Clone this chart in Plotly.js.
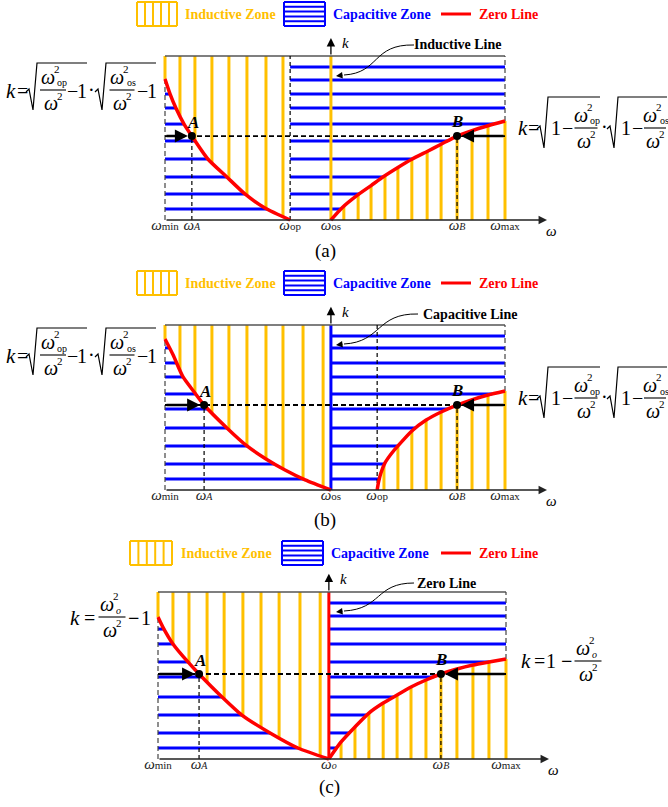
<!DOCTYPE html>
<html>
<head>
<meta charset="utf-8">
<script src="https://cdn.plot.ly/plotly-3.0.1.min.js"></script>
<style>
  html, body { margin: 0; padding: 0; background: #ffffff; }
  #chart { width: 668px; height: 807px; }
</style>
</head>
<body>
<div id="chart"></div>
<script>
// ---------------- panel (a): two resonant frequencies, ωop < ωos ----------------
const a_tickText = ['ωmin', 'ωA', 'ωop', 'ωos', 'ωB', 'ωmax'];
const a_tickVals = [0.5, 0.579, 0.868, 0.988, 1.359, 1.5];
const a_leftW  = [0.5, 0.515, 0.532, 0.556, 0.579, 0.626, 0.682, 0.735, 0.794, 0.868];
const a_leftK  = [0.860, 0.768, 0.683, 0.585, 0.512, 0.372, 0.262, 0.159, 0.073, 0];
const a_rightW = [0.988, 1.021, 1.065, 1.106, 1.141, 1.185, 1.226, 1.271, 1.312, 1.359, 1.403, 1.450, 1.500];
const a_rightK = [0, 0.075, 0.150, 0.210, 0.262, 0.320, 0.370, 0.418, 0.462, 0.512, 0.545, 0.575, 0.604];
const a_pointW = [0.579, 1.359];
const a_pointK = [0.512, 0.512];
const a_hatchK = [0.933, 0.854, 0.768, 0.683, 0.585, 0.482, 0.372, 0.262, 0.159, 0.067];
const a_hatchLeftW  = [0.5, 0.544, 0.588, 0.638, 0.688, 0.741, 0.797, 0.847];
const a_hatchRightW = [1.026, 1.068, 1.106, 1.147, 1.185, 1.226, 1.271, 1.312, 1.359, 1.403, 1.450, 1.500];

// ---------------- panel (b): ωos < ωop ----------------
const b_tickText = ['ωmin', 'ωA', 'ωos', 'ωop', 'ωB', 'ωmax'];
const b_tickVals = [0.5, 0.615, 0.988, 1.124, 1.359, 1.5];
const b_leftW  = [0.5, 0.524, 0.553, 0.588, 0.615, 0.682, 0.741, 0.797, 0.853, 0.912, 0.988];
const b_leftK  = [0.915, 0.818, 0.685, 0.588, 0.515, 0.376, 0.267, 0.188, 0.121, 0.061, 0];
const b_rightW = [1.124, 1.128, 1.135, 1.147, 1.165, 1.185, 1.226, 1.268, 1.312, 1.359, 1.400, 1.450, 1.500];
const b_rightK = [0, 0.048, 0.103, 0.164, 0.218, 0.267, 0.358, 0.424, 0.473, 0.515, 0.545, 0.576, 0.600];
const b_pointW = [0.615, 1.359];
const b_pointK = [0.515, 0.515];
const b_hatchK = [0.933, 0.861, 0.770, 0.685, 0.582, 0.491, 0.376, 0.267, 0.158, 0.067];
const b_hatchLeftW  = [0.5, 0.544, 0.588, 0.638, 0.688, 0.741, 0.797, 0.847, 0.906, 0.965];
const b_hatchRightW = [1.144, 1.185, 1.226, 1.268, 1.312, 1.359, 1.403, 1.450, 1.500];

// ---------------- panel (c): single resonant frequency ωo ----------------
const c_tickText = ['ωmin', 'ωA', 'ωo', 'ωB', 'ωmax'];
const c_tickVals = [0.5, 0.618, 0.991, 1.313, 1.5];
const c_leftW  = [0.5, 0.514, 0.543, 0.586, 0.618, 0.684, 0.741, 0.822, 0.902, 0.991];
const c_leftK  = [0.850, 0.790, 0.689, 0.581, 0.509, 0.371, 0.263, 0.156, 0.066, 0];
const c_rightW = [0.991, 1.026, 1.066, 1.106, 1.147, 1.187, 1.227, 1.270, 1.313, 1.359, 1.405, 1.451, 1.500];
const c_rightK = [0, 0.102, 0.192, 0.275, 0.335, 0.383, 0.431, 0.473, 0.509, 0.539, 0.563, 0.581, 0.599];
const c_pointW = [0.618, 1.313];
const c_pointK = [0.509, 0.509];
const c_hatchK = [0.934, 0.856, 0.778, 0.689, 0.581, 0.491, 0.371, 0.263, 0.156, 0.066];
const c_hatchLeftW  = [0.5, 0.543, 0.589, 0.641, 0.690, 0.744, 0.796, 0.848, 0.908, 0.966];
const c_hatchRightW = [1.026, 1.066, 1.106, 1.147, 1.187, 1.227, 1.270, 1.313, 1.359, 1.405, 1.451, 1.500];

// ---------------- styling ----------------
const SERIF = 'Liberation Serif, Times New Roman, serif';
const ORANGE = '#FFC000', BLUE = '#0000FF', RED = '#FF0000';
const W = 668, H = 807;
const X = p => p / W;
const Y = p => 1 - p / H;

const traces = [], shapes = [], annotations = [];
const layout = {
  width: W, height: H,
  margin: { l: 0, r: 0, t: 0, b: 0 },
  paper_bgcolor: '#ffffff', plot_bgcolor: 'rgba(0,0,0,0)',
  font: { family: SERIF },
  showlegend: false, shapes, annotations
};

// ---------- helpers ----------
function interpK(ws, ks, w) {
  for (let i = 0; i < ws.length - 1; i++) {
    if ((w - ws[i]) * (w - ws[i + 1]) <= 0) {
      const t = ws[i + 1] === ws[i] ? 0 : (w - ws[i]) / (ws[i + 1] - ws[i]);
      return ks[i] + t * (ks[i + 1] - ks[i]);
    }
  }
  return null;
}
function interpW(ws, ks, k) {
  for (let i = 0; i < ks.length - 1; i++) {
    if ((k - ks[i]) * (k - ks[i + 1]) <= 0) {
      const t = ks[i + 1] === ks[i] ? 0 : (k - ks[i]) / (ks[i + 1] - ks[i]);
      return ws[i] + t * (ws[i + 1] - ws[i]);
    }
  }
  return null;
}
function segTrace(segs, xa, ya, line) {
  const x = [], y = [];
  segs.forEach(([w0, k0, w1, k1]) => { x.push(w0, w1, null); y.push(k0, k1, null); });
  traces.push({ type: 'scatter', mode: 'lines', x, y, xaxis: xa, yaxis: ya, line, hoverinfo: 'skip' });
}
function fmtTick(t) {
  const sub = t.slice(1);
  const it = sub.length === 1;
  return '<i>ω</i><span style="font-size:' + (it ? 10 : 11) + 'px">' + (it ? '<i>' + sub + '</i>' : sub) + '</span>';
}
// text placed in page pixels
function T(x, y, text, size, color, extra) {
  annotations.push(Object.assign({
    xref: 'paper', yref: 'paper', x: X(x), y: Y(y), text, showarrow: false,
    xanchor: 'center', yanchor: 'middle',
    font: { family: SERIF, size, color: color || '#000000' }
  }, extra || {}));
}
function L(x0, y0, x1, y1, color, width) {
  shapes.push({ type: 'line', xref: 'paper', yref: 'paper', x0: X(x0), y0: Y(y0), x1: X(x1), y1: Y(y1),
    line: { color, width } });
}
function pathPx(cmds, color, width) {
  const d = cmds.map(c => {
    const pts = [];
    for (let i = 1; i < c.length; i += 2) pts.push(X(c[i]).toFixed(5) + ',' + Y(c[i + 1]).toFixed(5));
    return c[0] + ' ' + pts.join(' ');
  }).join(' ');
  shapes.push({ type: 'path', xref: 'paper', yref: 'paper', path: d, line: { color, width } });
}
// radical sign
function rad(x0, yMid, yBot, yTop, xEnd) {
  pathPx([['M', x0, yMid + 1], ['L', x0 + 3, yMid - 2], ['L', x0 + 7, yBot], ['L', x0 + 11, yTop], ['L', xEnd, yTop]], '#000', 1.2);
}
// ω²_sub / ω² fraction centred at xc with its bar at yBar
function frac(xc, yBar, half, sub) {
  T(xc - 5, yBar - 13, '<i>ω</i>', 20);
  T(xc + 4, yBar - 21, '2', 11);
  const it = sub.length === 1;
  T(xc + 3 + 3 * sub.length, yBar - 7, it ? '<i>' + sub + '</i>' : sub, 10);
  L(xc - half, yBar, xc + half, yBar, '#000', 1.1);
  T(xc - 2, yBar + 13, '<i>ω</i>', 20);
  T(xc + 7, yBar + 6, '2', 11);
}
function legendRow(yc, ox0, ox1, bx0, bx1, tI, tC, tZ) {
  const y0 = yc - 12, y1 = yc + 12;
  for (let i = 0; i <= 5; i++) { const x = ox0 + (ox1 - ox0) * i / 5; L(x, y0, x, y1, ORANGE, 2); }
  L(ox0, y0, ox1, y0, ORANGE, 2); L(ox0, y1, ox1, y1, ORANGE, 2);
  for (let i = 0; i <= 5; i++) { const y = y0 + (y1 - y0) * i / 5; L(bx0, y, bx1, y, BLUE, 2); }
  L(bx0, y0, bx0, y1, BLUE, 2); L(bx1, y0, bx1, y1, BLUE, 2);
  L(441, yc, 471, yc, RED, 3);
  T(tI, yc, '<b>Inductive Zone</b>', 14, ORANGE);
  T(tC, yc, '<b>Capacitive Zone</b>', 14, BLUE);
  T(tZ, yc, '<b>Zero Line</b>', 14, RED);
}
function callout(text, tx, ty, cmds, tipX, tipY) {
  T(tx, ty, '<b>' + text + '</b>', 14);
  pathPx(cmds, '#000', 1);
  annotations.push({ xref: 'paper', yref: 'paper', x: X(tipX), y: Y(tipY), ax: 8, ay: -1, text: '',
    showarrow: true, arrowhead: 2, arrowwidth: 1, arrowsize: 1.3, arrowcolor: '#000' });
}

// ---------- one ω–k panel ----------
function buildPanel(n, d, g) {
  const xa = n === 1 ? 'x' : 'x' + n, ya = n === 1 ? 'y' : 'y' + n;
  const s = 1 / (g.pxR - g.pxL), h = 1 / (g.pyK0 - g.pyK1);
  const DL = 120, DR = 590, topPx = g.pyK1 - 32, botPx = g.pyK0 + 8;
  layout[n === 1 ? 'xaxis' : 'xaxis' + n] = {
    domain: [X(DL), X(DR)], range: [0.5 + (DL - g.pxL) * s, 0.5 + (DR - g.pxL) * s],
    anchor: 'free', position: Y(g.pyK0),
    showline: false, showgrid: false, zeroline: false, ticks: '',
    tickvals: d.tickVals, ticktext: d.tickText.map(fmtTick), ticklabelstandoff: -6,
    tickfont: { family: SERIF, size: 15, color: '#222' }, fixedrange: true
  };
  layout[n === 1 ? 'yaxis' : 'yaxis' + n] = {
    domain: [Y(botPx), Y(topPx)], range: [-(botPx - g.pyK0) * h, 1 + (g.pyK1 - topPx) * h],
    anchor: xa, visible: false, fixedrange: true
  };

  const wMin = d.tickVals[0], wMax = d.tickVals[d.tickVals.length - 1];
  const wSplit = d.leftW[d.leftW.length - 1];
  const kL0 = d.leftK[0], kRend = d.rightK[d.rightK.length - 1];
  const kA = d.pointK[0];

  // inductive hatching: above the left curve, below the right curve
  const oseg = [];
  d.hatchLeftW.forEach(w => oseg.push([w, interpK(d.leftW, d.leftK, w), w, 1]));
  d.hatchRightW.forEach(w => { const k = interpK(d.rightW, d.rightK, w); if (k !== null) oseg.push([w, 0, w, k]); });
  segTrace(oseg, xa, ya, { color: ORANGE, width: 3 });

  // capacitive hatching: below the left curve, above the right curve
  const bseg = [];
  d.hatchK.forEach(k => {
    if (k < kL0) bseg.push([wMin, k, interpW(d.leftW, d.leftK, k), k]);
    const we = k < kRend ? interpW(d.rightW, d.rightK, k) : wMax;
    bseg.push([wSplit, k, we, k]);
  });
  segTrace(bseg, xa, ya, { color: BLUE, width: 3 });

  // boundary line at the split frequency
  segTrace([[d.lineW, 0, d.lineW, 1]], xa, ya, { color: d.lineColor, width: 3 });

  // frame
  segTrace([[wMin, 1, wMax, 1]], xa, ya, { color: '#555', width: 1.5 });
  segTrace([[wMin, 0, wMin, kL0], [wMax, kRend, wMax, 1]], xa, ya, { color: '#444', width: 1.2, dash: '5px,3px' });

  // guide lines
  const vd = d.dashedW.map(w => [w, 0, w, 1]);
  d.pointW.forEach((w, i) => vd.push([w, 0, w, d.pointK[i]]));
  segTrace(vd, xa, ya, { color: '#000', width: 1.2, dash: '4px,3px' });
  segTrace([[wMin, kA, wMax, kA]], xa, ya, { color: '#000', width: 1.8, dash: '5px,3px' });

  // zero-reactance curves
  [[d.leftW, d.leftK], [d.rightW, d.rightK]].forEach(([xw, yk]) => traces.push({
    type: 'scatter', mode: 'lines', x: xw, y: yk, xaxis: xa, yaxis: ya, hoverinfo: 'skip',
    line: { color: RED, width: 3.5, shape: 'spline', smoothing: 0.6 }
  }));

  // operating points A and B
  traces.push({ type: 'scatter', mode: 'markers', x: d.pointW, y: d.pointK, xaxis: xa, yaxis: ya,
    hoverinfo: 'skip', marker: { color: '#000', size: 8 } });

  const wEnd = 0.5 + (g.axisEndPx - g.pxL) * s;
  const kTip = 1.11;
  const arr = (x, y, ax, ay, width, size, standoff, color) => annotations.push({
    xref: xa, yref: ya, axref: xa, ayref: ya, x, y, ax, ay, text: '', showarrow: true,
    arrowhead: 2, arrowwidth: width, arrowsize: size, standoff, arrowcolor: color
  });
  arr(wEnd, 0, wMin, 0, 1.3, 1.3, 0, '#222');                  // ω axis
  arr(d.lineW, kTip, d.lineW, 1, 1.3, 1.3, 0, '#000');          // k axis
  arr(d.pointW[0], kA, wMin, kA, 2.6, 1, 4, '#000');            // towards A
  arr(d.pointW[1], d.pointK[1], wMax, d.pointK[1], 2.6, 1, 4, '#000'); // towards B

  const lab = (x, y, text, size, xs, ys) => annotations.push({
    xref: xa, yref: ya, x, y, text, showarrow: false, xshift: xs, yshift: ys,
    font: { family: SERIF, size, color: '#000' }
  });
  lab(d.pointW[0], kA, '<b><i>A</i></b>', 17, 1, 14);
  lab(d.pointW[1], d.pointK[1], '<b><i>B</i></b>', 17, 0, 15);
  lab(d.lineW, kTip, '<i>k</i>', 15, 15, -5);
  lab(wEnd, 0, '<i>ω</i>', 15, 4, -11);
}

buildPanel(1, {
  tickText: a_tickText, tickVals: a_tickVals, leftW: a_leftW, leftK: a_leftK,
  rightW: a_rightW, rightK: a_rightK, pointW: a_pointW, pointK: a_pointK,
  hatchK: a_hatchK, hatchLeftW: a_hatchLeftW, hatchRightW: a_hatchRightW,
  lineW: a_tickVals[3], lineColor: ORANGE, dashedW: [a_tickVals[2]]
}, { pxL: 165, pxR: 505, pyK0: 220, pyK1: 56, axisEndPx: 547 });

buildPanel(2, {
  tickText: b_tickText, tickVals: b_tickVals, leftW: b_leftW, leftK: b_leftK,
  rightW: b_rightW, rightK: b_rightK, pointW: b_pointW, pointK: b_pointK,
  hatchK: b_hatchK, hatchLeftW: b_hatchLeftW, hatchRightW: b_hatchRightW,
  lineW: b_tickVals[2], lineColor: BLUE, dashedW: [b_tickVals[3]]
}, { pxL: 165, pxR: 505, pyK0: 490, pyK1: 325, axisEndPx: 547 });

buildPanel(3, {
  tickText: c_tickText, tickVals: c_tickVals, leftW: c_leftW, leftK: c_leftK,
  rightW: c_rightW, rightK: c_rightK, pointW: c_pointW, pointK: c_pointK,
  hatchK: c_hatchK, hatchLeftW: c_hatchLeftW, hatchRightW: c_hatchRightW,
  lineW: c_tickVals[2], lineColor: RED, dashedW: []
}, { pxL: 158, pxR: 506, pyK0: 759, pyK1: 592, axisEndPx: 549 });

// ---------- legends ----------
legendRow(14, 137, 177, 284, 325, 231, 382, 508);
legendRow(283, 137, 177, 284, 325, 231, 382, 508);
legendRow(553, 130, 172, 282, 323, 226, 380, 508);

// ---------- callouts ----------
callout('Inductive Line', 458, 45, [['M', 414, 45], ['C', 372, 44, 380, 73, 344, 75]], 336, 76);
callout('Capacitive Line', 470, 314, [['M', 418, 314], ['C', 376, 313, 382, 342, 344, 344]], 336, 345);
callout('Zero Line', 446, 583, [['M', 414, 583], ['C', 375, 583, 382, 609, 344, 611]], 336, 612);

// ---------- formulas ----------
function sqrtProductLeft(y0) {
  T(11, y0, '<i>k</i>', 21); T(22, y0, '=', 20);
  rad(26, y0, y0 + 19, y0 - 28, 87);
  frac(53, y0 - 1, 13, 'op');
  T(72, y0, '−', 20); T(82, y0, '1', 20);
  T(91, y0 - 1, '·', 20);
  rad(95, y0, y0 + 19, y0 - 28, 156);
  frac(122, y0 - 1, 12.5, 'os');
  T(142, y0, '−', 20); T(152, y0, '1', 20);
}
function sqrtProductRight(y0) {
  T(523, y0, '<i>k</i>', 21); T(533, y0, '=', 20);
  rad(537, y0, y0 + 20, y0 - 31, 600);
  T(556, y0, '1', 20); T(567, y0, '−', 20);
  frac(586, y0, 11.5, 'op');
  T(604, y0 - 1, '·', 20);
  rad(607, y0, y0 + 20, y0 - 31, 667);
  T(626, y0, '1', 20); T(637, y0, '−', 20);
  frac(655, y0, 11, 'os');
}
sqrtProductLeft(91);
sqrtProductRight(128);
sqrtProductLeft(356);
sqrtProductRight(398);

T(75, 618, '<i>k</i>', 21); T(89, 618, '=', 20);
frac(112, 617, 13.5, 'o');
T(133, 618, '<b>−</b>', 20); T(146, 618, '1', 20);

T(526, 661, '<i>k</i>', 21); T(539, 661, '=', 20); T(551, 661, '1', 20); T(566, 661, '<b>−</b>', 20);
frac(588, 661, 13.5, 'o');

// ---------- panel captions ----------
T(325, 251, '(a)', 19);
T(325, 520, '(b)', 19);
T(329, 787, '(c)', 19);

Plotly.newPlot('chart', traces, layout, { staticPlot: true, displayModeBar: false });
</script>
</body>
</html>
